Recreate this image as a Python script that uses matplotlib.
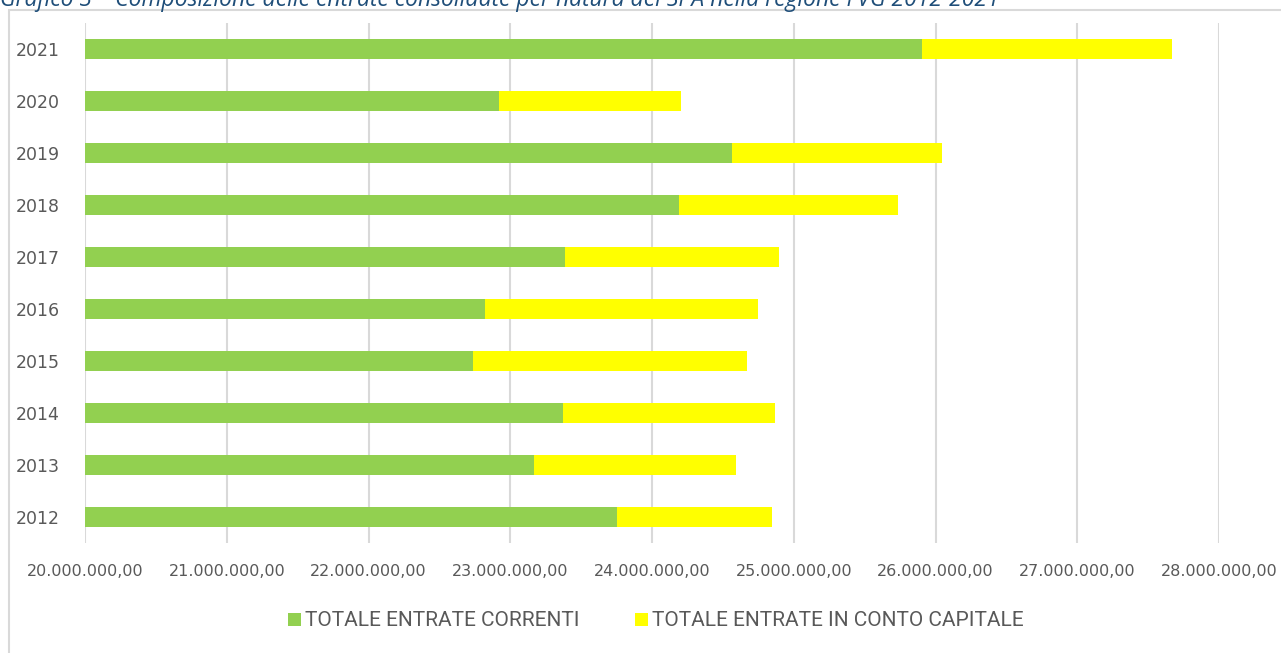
import matplotlib.pyplot as plt
from matplotlib.patches import Rectangle
from matplotlib.ticker import FuncFormatter

# anni (dal basso verso l'alto)
anni = ["2012", "2013", "2014", "2015", "2016", "2017", "2018", "2019", "2020", "2021"]

# totale entrate correnti (euro)
correnti = [23753000, 23168000, 23372000, 22737000, 22822000,
            23386000, 24190000, 24564000, 22921000, 25905000]

# totale entrate in conto capitale (euro)
capitale = [1094000, 1425000, 1496000, 1933000, 1926000,
            1510000, 1545000, 1482000, 1284000, 1763000]

verde = "#92D050"
giallo = "#FFFF00"
grigio = "#595959"
base = 20000000


def fmt_it(v, pos):
    s = "{:,.2f}".format(v)
    return s.replace(",", "X").replace(".", ",").replace("X", ".")


fig = plt.figure(figsize=(12.81, 6.53), dpi=100)

# cornice del grafico
fig.patches.append(Rectangle((9 / 1281, -0.01), 1.0, 1 - 10 / 653 + 0.01,
                             transform=fig.transFigure, fill=False,
                             edgecolor="#d9d9d9", linewidth=1.5))

# titolo (tagliato in alto, come nell'originale)
fig.text(0.0, 1 - 6 / 653, "Grafico 3 – Composizione delle entrate consolidate per natura del SPA nella regione FVG 2012-2021",
         fontsize=16.5, style="italic", color="#1F4E79", va="baseline", ha="left",
         family=["Open Sans", "DejaVu Sans"])

ax = fig.add_axes([85 / 1281, 1 - 543 / 653, (1219 - 85) / 1281, (543 - 23) / 653])

y = list(range(len(anni)))
verdi = [c - base for c in correnti]
ax.barh(y, verdi, left=base, height=0.385, color=verde, label="TOTALE ENTRATE CORRENTI", zorder=3)
ax.barh(y, capitale, left=correnti, height=0.385, color=giallo,
        label="TOTALE ENTRATE IN CONTO CAPITALE", zorder=3)

ax.set_xlim(20000000, 28000000)
ax.set_ylim(-0.5, len(anni) - 0.5)
ax.set_xticks(range(20000000, 28000001, 1000000))
ax.xaxis.set_major_formatter(FuncFormatter(fmt_it))
ax.set_yticks(y)
ax.set_yticklabels(anni)
for t in ax.get_xticklabels() + ax.get_yticklabels():
    t.set_family("DejaVu Sans")

ax.grid(axis="x", color="#d9d9d9", linewidth=1.5, zorder=0)
ax.set_axisbelow(True)
for s in ax.spines.values():
    s.set_visible(False)
ax.tick_params(axis="both", length=0, colors=grigio)
ax.tick_params(axis="x", pad=15, labelsize=11.5)
ax.tick_params(axis="y", pad=18, labelsize=12.5)

fig.legend(loc="center", bbox_to_anchor=(0.512, 1 - 621 / 653), ncol=2, frameon=False,
           handlelength=0.6, handleheight=0.6, handletextpad=0.2, columnspacing=2.7,
           prop={"family": ["Roboto", "DejaVu Sans"], "size": 15},
           labelcolor=grigio)

fig.savefig("out.png", dpi=100)
